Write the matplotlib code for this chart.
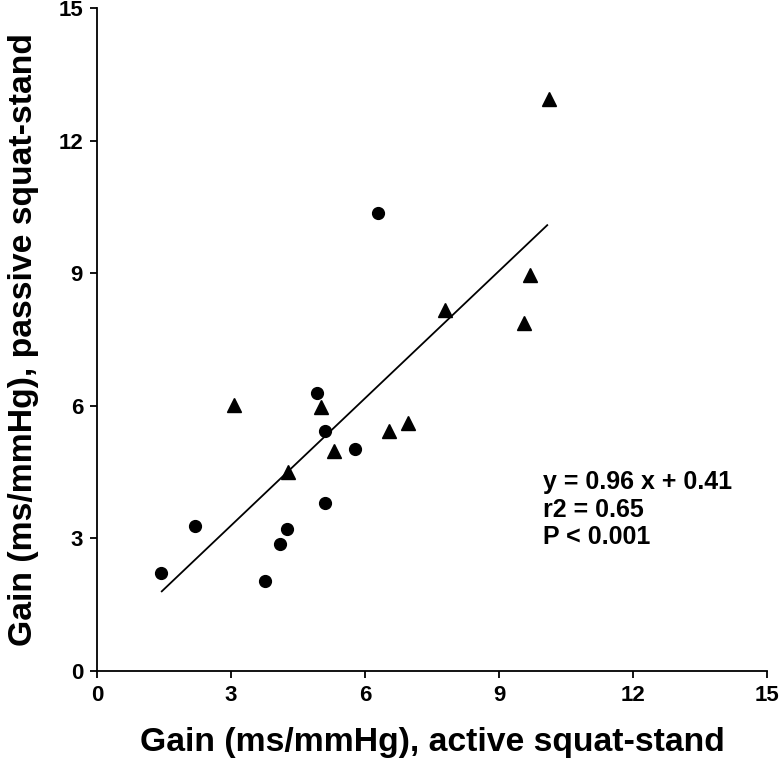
import matplotlib.pyplot as plt
import numpy as np

plt.rcParams['font.family'] = ['Liberation Sans', 'DejaVu Sans']
plt.rcParams['font.weight'] = 'bold'
plt.rcParams['axes.labelweight'] = 'bold'

# circles
circ_x = [1.43, 2.20, 3.75, 4.10, 4.25, 5.10, 4.93, 5.11, 5.77, 6.30]
circ_y = [2.21, 3.28, 2.04, 2.87, 3.21, 3.80, 6.28, 5.43, 5.02, 10.37]
# triangles
tri_x = [3.06, 5.02, 4.27, 5.30, 6.53, 6.96, 7.78, 9.55, 9.70, 10.11]
tri_y = [6.02, 5.97, 4.51, 4.98, 5.43, 5.60, 8.17, 7.87, 8.96, 12.94]

slope, intercept = 0.96, 0.41
fit_x = [1.45, 10.08]
ticks = [0, 3, 6, 9, 12, 15]
tick_labels = ['0', '3', '6', '9', '12', '15']

fig = plt.figure(figsize=(7.83, 7.63), dpi=100)
ax = fig.add_axes([97/783, 92/763, 670/783, 663/763])

ax.plot(circ_x, circ_y, 'o', color='black', ms=8.5, clip_on=False)
ax.plot(tri_x, tri_y, '^', color='black', ms=10, clip_on=False)
fx = np.array(fit_x)
ax.plot(fx, slope*fx + intercept, color='black', lw=1.3)

ax.set_xlim(0, 15)
ax.set_ylim(0, 15)
ax.set_xticks(ticks, tick_labels)
ax.set_yticks(ticks, tick_labels)
ax.tick_params(length=5, width=1.3, direction='out', labelsize=16, pad=5)
for lab in ax.get_xticklabels() + ax.get_yticklabels():
    lab.set_fontweight('bold')
ax.spines['top'].set_visible(False)
ax.spines['right'].set_visible(False)
ax.spines['left'].set_linewidth(1.3)
ax.spines['bottom'].set_linewidth(1.3)

ax.set_xlabel('Gain (ms/mmHg), active squat-stand', fontsize=24.3, fontweight='bold', labelpad=15)
ax.set_ylabel('Gain (ms/mmHg), passive squat-stand', fontsize=24.3, fontweight='bold', labelpad=14)

ax.text(9.99, 4.55, 'y = 0.96 x + 0.41\nr2 = 0.65\nP < 0.001', fontsize=18,
        fontweight='bold', va='top', ha='left', linespacing=1.2)

fig.savefig('out.png', dpi=100)
